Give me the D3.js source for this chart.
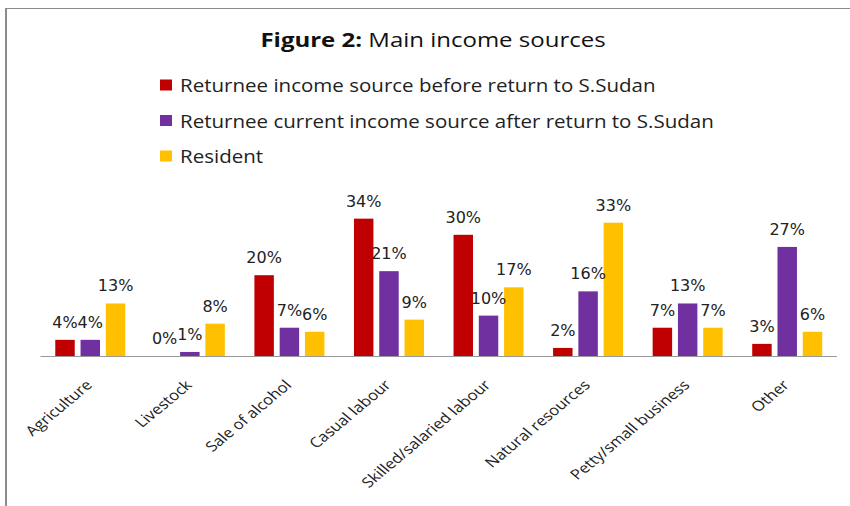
<!DOCTYPE html>
<html>
<head>
<meta charset="utf-8">
<script src="https://d3js.org/d3.v7.min.js"></script>
<style>
    body { margin: 0; background: #fff; }
    #chart-area { width: 850px; height: 506px; }
    .bar-label { font-family: "DejaVu Sans", Verdana, sans-serif; font-size: 16px; fill: #222; }
    .cat-label { font-family: "Open Sans", sans-serif; font-size: 14px; fill: #222; }
    .legend-text { font-family: "Open Sans", sans-serif; font-size: 18px; fill: #222; }
    .title { font-family: "Open Sans", sans-serif; font-size: 20px; fill: #111; }
</style>
</head>
<body>
<div id="chart-area"></div>
<script>
// categories along the x axis
const categories = ["Agriculture", "Livestock", "Sale of alcohol", "Casual labour",
    "Skilled/salaried labour", "Natural resources", "Petty/small business", "Other"];

// legend names
const seriesNames = ["Returnee income source before return to S.Sudan",
    "Returnee current income source after return to S.Sudan",
    "Resident"];

// values (share of respondents) per series
const beforeReturn = [0.04, 0.00, 0.20, 0.34, 0.30, 0.02, 0.07, 0.03];
const afterReturn  = [0.04, 0.01, 0.07, 0.21, 0.10, 0.16, 0.13, 0.27];
const resident     = [0.13, 0.08, 0.06, 0.09, 0.17, 0.33, 0.07, 0.06];

const seriesColors = ["#C00000", "#7030A0", "#FFC000"];

class IncomeBarChart {

    constructor(parentElement) {
        this.parentElement = parentElement;
        this.initVis();
    }

    initVis() {
        let vis = this;

        vis.width = 850;
        vis.height = 506;
        // the original picture is stretched sideways a bit, text included
        vis.stretch = 1.2;

        vis.svg = d3.select("#" + vis.parentElement).append("svg")
            .attr("width", vis.width)
            .attr("height", vis.height);

        // frame (clipped at right and bottom in the original)
        vis.svg.append("line")
            .attr("x1", 6).attr("x2", 6).attr("y1", 8).attr("y2", vis.height)
            .attr("stroke", "#8c8c8c").attr("stroke-width", 2);
        vis.svg.append("line")
            .attr("x1", 5).attr("x2", vis.width).attr("y1", 8.5).attr("y2", 8.5)
            .attr("stroke", "#8c8c8c").attr("stroke-width", 1);

        // title
        let title = vis.svg.append("text")
            .attr("class", "title")
            .attr("text-anchor", "middle")
            .attr("transform", `translate(433,47) scale(${vis.stretch},1)`);
        title.append("tspan").attr("font-weight", "bold").text("Figure 2:");
        title.append("tspan").text(" Main income sources");

        // scales
        vis.x0 = d3.scaleBand()
            .domain(categories)
            .range([40.5, 837]);
        vis.x1 = d3.scaleBand()
            .domain(seriesNames)
            .range([0, 70])
            .paddingInner(0.23);
        vis.y = d3.scaleLinear()
            .domain([0, 0.35])
            .range([356, 214.6]);

        vis.wrangleData();
    }

    wrangleData() {
        let vis = this;
        let allValues = [beforeReturn, afterReturn, resident];

        vis.displayData = categories.map((c, i) => ({
            category: c,
            values: seriesNames.map((s, j) => ({ series: s, color: seriesColors[j], value: allValues[j][i] }))
        }));

        vis.updateVis();
    }

    updateVis() {
        let vis = this;
        let offset = (vis.x0.bandwidth() - 70) / 2;

        let groups = vis.svg.selectAll(".group")
            .data(vis.displayData)
            .enter()
            .append("g")
            .attr("class", "group")
            .attr("transform", d => `translate(${vis.x0(d.category) + offset},0)`);

        groups.selectAll("rect")
            .data(d => d.values)
            .enter()
            .append("rect")
            .attr("x", d => vis.x1(d.series))
            .attr("width", vis.x1.bandwidth())
            .attr("y", d => vis.y(d.value))
            .attr("height", d => vis.y(0) - vis.y(d.value))
            .attr("fill", d => d.color);

        groups.selectAll(".bar-label")
            .data(d => d.values)
            .enter()
            .append("text")
            .attr("class", "bar-label")
            .attr("x", d => vis.x1(d.series) + vis.x1.bandwidth() / 2)
            .attr("y", d => vis.y(d.value) - 12)
            .attr("text-anchor", "middle")
            .text(d => d3.format(".0%")(d.value));

        // x axis line
        vis.svg.append("line")
            .attr("x1", vis.x0.range()[0]).attr("x2", vis.x0.range()[1])
            .attr("y1", vis.y(0) + 0.5).attr("y2", vis.y(0) + 0.5)
            .attr("stroke", "#999").attr("stroke-width", 1.2);

        // rotated category labels (45 deg, then stretched like the rest)
        vis.svg.selectAll(".cat-label")
            .data(categories)
            .enter()
            .append("text")
            .attr("class", "cat-label")
            .attr("text-anchor", "end")
            .attr("transform", d => `translate(${vis.x0(d) + vis.x0.bandwidth() / 2 + 3},386) scale(${vis.stretch},1) rotate(-45)`)
            .text(d => d);

        // legend
        let legend = vis.svg.selectAll(".legend")
            .data(seriesNames)
            .enter()
            .append("g")
            .attr("class", "legend")
            .attr("transform", (d, i) => `translate(160,${85.5 + i * 35.5})`);

        legend.append("rect")
            .attr("x", 0).attr("y", -6)
            .attr("width", 12).attr("height", 11)
            .attr("fill", (d, i) => seriesColors[i]);

        legend.append("text")
            .attr("class", "legend-text")
            .attr("transform", `translate(20,6.5) scale(1.14,1)`)
            .text(d => d);
    }
}

new IncomeBarChart("chart-area");
</script>
</body>
</html>
